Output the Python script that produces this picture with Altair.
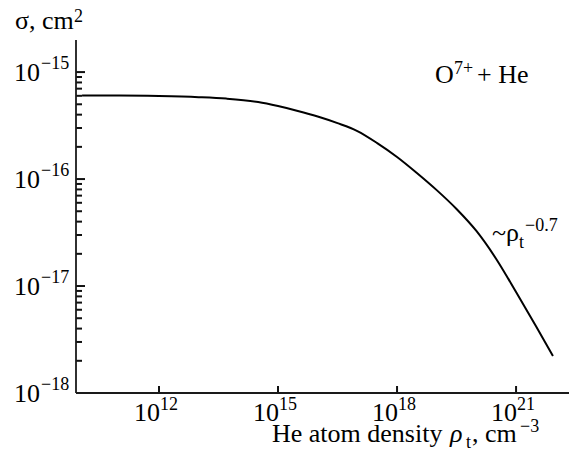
import altair as alt
import pandas as pd

# ---- data ----
density = [1.15e10, 1e11, 1e12, 1e13, 5.01e13, 3.16e14, 1e15, 3.16e15, 1e16,
           3.16e16, 1e17, 3.16e17, 1e18, 3.16e18, 1e19, 3.16e19, 1e20,
           3.16e20, 1e21, 3.16e21, 8.51e21]
sigma = [6.03e-16, 6.03e-16, 5.97e-16, 5.83e-16, 5.65e-16, 5.25e-16, 4.81e-16,
         4.33e-16, 3.84e-16, 3.33e-16, 2.81e-16, 2.17e-16, 1.61e-16, 1.14e-16,
         7.88e-17, 5.25e-17, 3.27e-17, 1.79e-17, 8.79e-18, 4.23e-18, 2.22e-18]

x_tick_values = [1e12, 1e15, 1e18, 1e21]
x_tick_exps = ["12", "15", "18", "21"]
y_tick_values = [1e-18, 1e-17, 1e-16, 1e-15]
y_tick_exps = ["\u221218", "\u221217", "\u221216", "\u221215"]
y_minor_values = [m * 10.0 ** e for e in (-18, -17, -16) for m in range(2, 10)]

FONT = "Liberation Serif"
BIG = 26
SMALL = 18
W, H = 493, 353
AX = "#1a1a1a"
TK = "#111111"

xscale = alt.Scale(type="log", domain=[8.09e9, 2.16e22], nice=False)
yscale = alt.Scale(type="log", domain=[1e-18, 1.995e-15], nice=False)

curve_df = pd.DataFrame({"density": density, "sigma": sigma})
xt_df = pd.DataFrame({"xv": x_tick_values, "e": x_tick_exps})
yt_df = pd.DataFrame({"yv": y_tick_values, "e": y_tick_exps})
ym_df = pd.DataFrame({"ym": y_minor_values})

line = alt.Chart(curve_df).mark_line(color="black", strokeWidth=2, interpolate="monotone").encode(
    x=alt.X("density:Q", scale=xscale, axis=None),
    y=alt.Y("sigma:Q", scale=yscale, axis=None),
)

xticks = alt.Chart(xt_df).mark_rule(color=TK, strokeWidth=2).encode(
    x=alt.X("xv:Q", scale=xscale, axis=None), y=alt.value(H), y2=alt.value(H - 7))
yticks = alt.Chart(yt_df).mark_rule(color=TK, strokeWidth=2).encode(
    y=alt.Y("yv:Q", scale=yscale, axis=None), x=alt.value(0), x2=alt.value(9))
yminor = alt.Chart(ym_df).mark_rule(color=TK, strokeWidth=2).encode(
    y=alt.Y("ym:Q", scale=yscale, axis=None), x=alt.value(0), x2=alt.value(6))

one = alt.Data(values=[{}])
xaxis_line = alt.Chart(one).mark_rule(color=AX, strokeWidth=1.8).encode(
    x=alt.value(0), x2=alt.value(W), y=alt.value(H))
yaxis_line = alt.Chart(one).mark_rule(color=AX, strokeWidth=1.8).encode(
    x=alt.value(0), y=alt.value(0), y2=alt.value(H))

xl_base = alt.Chart(xt_df).mark_text(text="10", font=FONT, fontSize=BIG, align="right",
                                     baseline="alphabetic", dx=1, color="black").encode(
    x=alt.X("xv:Q", scale=xscale, axis=None), y=alt.value(H + 28))
xl_exp = alt.Chart(xt_df).mark_text(font=FONT, fontSize=SMALL, align="left",
                                    baseline="alphabetic", dx=1, color="black").encode(
    x=alt.X("xv:Q", scale=xscale, axis=None), y=alt.value(H + 17), text="e:N")

yl_base = alt.Chart(yt_df).mark_text(text="10", font=FONT, fontSize=BIG, align="right",
                                     baseline="alphabetic", dy=8.5, color="black").encode(
    y=alt.Y("yv:Q", scale=yscale, axis=None), x=alt.value(-36))
yl_exp = alt.Chart(yt_df).mark_text(font=FONT, fontSize=SMALL, align="left",
                                    baseline="alphabetic", dy=-3.5, color="black").encode(
    y=alt.Y("yv:Q", scale=yscale, axis=None), x=alt.value(-35), text="e:N")


def label(text, x, y, size=BIG, style="normal"):
    return alt.Chart(alt.Data(values=[{}])).mark_text(
        text=text, font=FONT, fontSize=size, fontStyle=style, align="left",
        baseline="alphabetic", color="black").encode(x=alt.value(x), y=alt.value(y))


labels = [
    # y title
    label("\u03c3, cm", -61, -11),
    label("2", -2, -18, SMALL),
    # x title
    label("He atom density", 196, 402),
    label("\u03c1", 374, 402, BIG, "italic"),
    label("t", 390, 408, SMALL),
    label(", cm", 396, 402),
    label("\u22123", 444, 392, SMALL),
    # O7+ + He
    label("O", 359, 43),
    label("7+", 378, 34, SMALL),
    label("+ He", 401, 43),
    # power law
    label("~\u03c1", 416, 201),
    label("t", 443, 208, SMALL),
    label("\u22120.7", 449, 191, SMALL),
]

chart = alt.layer(line, xticks, yticks, yminor, xaxis_line, yaxis_line,
                  xl_base, xl_exp, yl_base, yl_exp, *labels).properties(
    width=W, height=H,
    autosize=alt.AutoSizeParams(type="none"),
    padding={"left": 76, "top": 40, "right": 0, "bottom": 62},
    background="white",
).configure_view(stroke=None)

chart.save("out.html", embed_options={"renderer": "svg", "actions": False})
